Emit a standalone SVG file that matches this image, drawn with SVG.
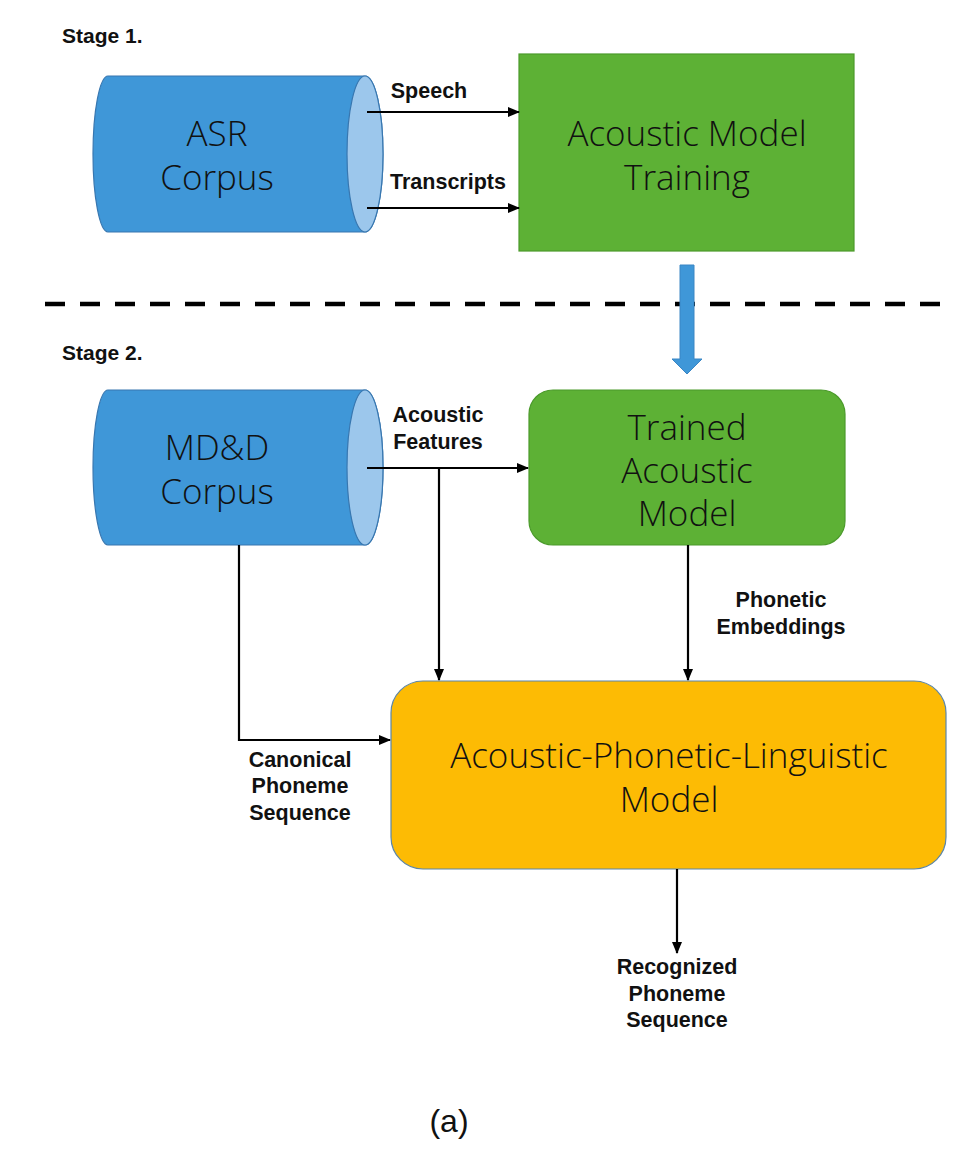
<svg xmlns="http://www.w3.org/2000/svg" width="968" height="1164" viewBox="0 0 968 1164">
  <defs>
    <marker id="ah" markerWidth="12" markerHeight="11" refX="11" refY="5.5" orient="auto" markerUnits="userSpaceOnUse">
      <path d="M0,0.5 L12,5.5 L0,10.5 Z" fill="#000"/>
    </marker>
    <style>
      .lbl { font-family: "Liberation Sans", Arial, sans-serif; font-weight: bold; font-size: 21.5px; fill: #111; text-anchor: middle; }
      .stage { font-family: "Liberation Sans", Arial, sans-serif; font-weight: bold; font-size: 21px; fill: #111; }
      .node { font-family: "Open Sans", "Noto Sans", sans-serif; font-weight: 300; font-size: 35px; fill: #111; text-anchor: middle; }
      .cyl { fill: #3f97d8; stroke: #3877b0; stroke-width: 1.2; }
      .cap { fill: #9cc7ec; stroke: #3877b0; stroke-width: 1.2; }
      .green { fill: #5db135; stroke: #4b9a2b; stroke-width: 1.2; }
      .conn { stroke: #000; stroke-width: 2.2; fill: none; }
    </style>
  </defs>
  <rect width="968" height="1164" fill="#fff"/>

  <text class="stage" x="62" y="43">Stage 1.</text>
  <text class="stage" x="62" y="360">Stage 2.</text>

  <line x1="45" y1="304" x2="940" y2="304" stroke="#000" stroke-width="4.5" stroke-dasharray="20 15"/>

  <g id="asr-corpus">
    <path class="cyl" d="M108,76 L365,76 A18,78 0 0 1 365,232 L108,232 A15,78 0 0 1 108,76 Z"/>
    <ellipse class="cap" cx="365" cy="154" rx="18" ry="78"/>
    <text class="node" x="217" y="146">ASR</text>
    <text class="node" x="217" y="190">Corpus</text>
  </g>

  <g id="am-training">
    <rect class="green" x="519" y="54" width="335" height="197"/>
    <text class="node" x="687" y="146">Acoustic Model</text>
    <text class="node" x="687" y="190">Training</text>
  </g>

  <g id="transfer-arrow">
    <path d="M680,265 L694,265 L694,359 L702,359 L687,374 L672,359 L680,359 Z" fill="#3f97d8" stroke="#3a86c4" stroke-width="1"/>
  </g>

  <g id="mdd-corpus">
    <path class="cyl" d="M108,390 L365,390 A18,77.5 0 0 1 365,545 L108,545 A15,77.5 0 0 1 108,390 Z"/>
    <ellipse class="cap" cx="365" cy="467.5" rx="18" ry="77.5"/>
    <text class="node" x="217" y="460">MD&amp;D</text>
    <text class="node" x="217" y="504">Corpus</text>
  </g>

  <g id="trained-am">
    <rect class="green" x="529" y="390" width="316" height="155" rx="24" ry="24"/>
    <text class="node" x="687" y="440">Trained</text>
    <text class="node" x="687" y="483">Acoustic</text>
    <text class="node" x="687" y="526">Model</text>
  </g>

  <g id="apl-model">
    <rect x="391" y="681" width="555" height="188" rx="32" ry="32" fill="#fdbb04" stroke="#5c86a8" stroke-width="1.2"/>
    <text class="node" x="669" y="768">Acoustic-Phonetic-Linguistic</text>
    <text class="node" x="669" y="812">Model</text>
  </g>

  <g id="connectors">
    <line class="conn" x1="367" y1="112" x2="519" y2="112" marker-end="url(#ah)"/>
    <line class="conn" x1="367" y1="208" x2="519" y2="208" marker-end="url(#ah)"/>
    <line class="conn" x1="367" y1="468" x2="528" y2="468" marker-end="url(#ah)"/>
    <line class="conn" x1="439" y1="468" x2="439" y2="680" marker-end="url(#ah)"/>
    <polyline class="conn" points="239,545 239,740 390,740" marker-end="url(#ah)"/>
    <line class="conn" x1="688" y1="545" x2="688" y2="680" marker-end="url(#ah)"/>
    <line class="conn" x1="677" y1="869" x2="677" y2="953" marker-end="url(#ah)"/>
  </g>

  <g id="labels">
    <text class="lbl" x="429" y="98">Speech</text>
    <text class="lbl" x="448" y="189">Transcripts</text>
    <text class="lbl" x="438" y="422">Acoustic</text>
    <text class="lbl" x="438" y="449">Features</text>
    <text class="lbl" x="781" y="607">Phonetic</text>
    <text class="lbl" x="781" y="634">Embeddings</text>
    <text class="lbl" x="300" y="767">Canonical</text>
    <text class="lbl" x="300" y="793">Phoneme</text>
    <text class="lbl" x="300" y="820">Sequence</text>
    <text class="lbl" x="677" y="974">Recognized</text>
    <text class="lbl" x="677" y="1001">Phoneme</text>
    <text class="lbl" x="677" y="1027">Sequence</text>
  </g>

  <text x="449" y="1132" font-family="Liberation Sans, Arial, sans-serif" font-size="32" fill="#111" text-anchor="middle">(a)</text>
</svg>
